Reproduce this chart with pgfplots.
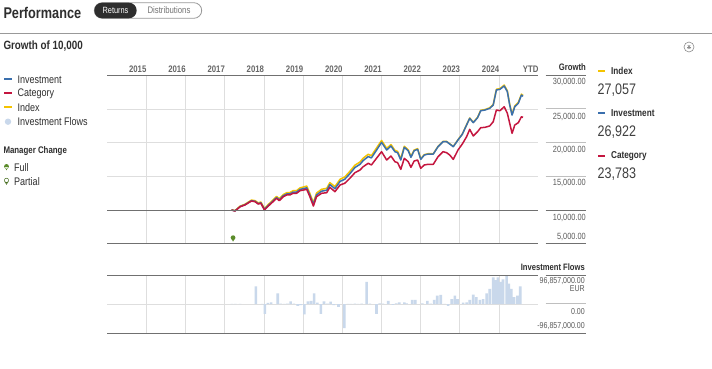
\documentclass[border=0pt]{standalone}
\usepackage{fontspec}
\setmainfont{Liberation Sans}[FakeStretch=0.82]
\usepackage{pgfplots}
\usepackage{pgfplotstable}
\usetikzlibrary{calc}
\pgfplotsset{compat=1.18}
\definecolor{cInv}{HTML}{3A6FAD}
\definecolor{cCat}{HTML}{C4163F}
\definecolor{cIdx}{HTML}{F4C300}
\definecolor{cFlow}{HTML}{C9D8EB}
\definecolor{cGrid}{HTML}{DEDEDE}
\definecolor{cDark}{HTML}{707070}
\definecolor{cText}{HTML}{2E2E2E}
\definecolor{cLab}{HTML}{5A5A5A}
\definecolor{cGreen}{HTML}{5B8C2A}
\newcommand\fs[1]{\fontsize{#1}{#1}\selectfont}
\pgfdeclareplotmark{pin}{%
  \pgfpathmoveto{\pgfpoint{-1.7pt}{-0.2pt}}%
  \pgfpathlineto{\pgfpoint{0pt}{-3.4pt}}%
  \pgfpathlineto{\pgfpoint{1.7pt}{-0.2pt}}%
  \pgfpathclose
  \pgfpathcircle{\pgfpoint{0pt}{0.6pt}}{2.4pt}%
  \pgfusepathqfill}

\pgfplotstableread{
x y
2018.17 10000
2018.26 9860
2018.39 10510
2018.51 10770
2018.68 11380
2018.77 11290
2018.85 10950
2018.92 11060
2019.01 10080
2019.11 10680
2019.23 11340
2019.32 11850
2019.39 11510
2019.49 12110
2019.58 12380
2019.66 12390
2019.74 12650
2019.83 12660
2019.92 13060
2020.09 13300
2020.17 12210
2020.26 10830
2020.34 12240
2020.47 12800
2020.60 12930
2020.68 13770
2020.81 13170
2020.94 14250
2021.06 14570
2021.19 15390
2021.32 16320
2021.45 16800
2021.53 17360
2021.66 17950
2021.74 17750
2021.87 18900
2022.00 20070
2022.13 18930
2022.24 19520
2022.34 18680
2022.41 18530
2022.49 17440
2022.58 19330
2022.68 18820
2022.75 17840
2022.83 18820
2022.92 19030
2023.00 17540
2023.09 18180
2023.19 18330
2023.32 18330
2023.44 19420
2023.57 20170
2023.66 20170
2023.74 19820
2023.83 19420
2023.95 20420
2024.06 21270
2024.17 22660
2024.25 23650
2024.34 23000
2024.45 23740
2024.53 24780
2024.64 24890
2024.76 25140
2024.85 25630
2024.93 27870
2025.02 27970
2025.13 28470
2025.21 27620
2025.27 25630
2025.33 24140
2025.40 25380
2025.49 25890
2025.57 27120
2025.61 26922
}\investmentdata

\pgfplotstableread{
x y
2018.17 9990
2018.26 9840
2018.39 10480
2018.51 10730
2018.68 11330
2018.77 11230
2018.85 10880
2018.92 10990
2019.01 9990
2019.11 10580
2019.23 11230
2019.32 11730
2019.39 11380
2019.49 11970
2019.58 12230
2019.66 12230
2019.74 12480
2019.83 12480
2019.92 12870
2020.09 13070
2020.17 11970
2020.26 10580
2020.34 11970
2020.47 12480
2020.60 12570
2020.68 13370
2020.81 12720
2020.94 13720
2021.06 13970
2021.19 14710
2021.32 15550
2021.45 15950
2021.53 16440
2021.66 16950
2021.74 16700
2021.87 17690
2022.00 18680
2022.13 17440
2022.24 18030
2022.34 17190
2022.41 17040
2022.49 16050
2022.58 17690
2022.68 17190
2022.75 16350
2022.83 17290
2022.92 17440
2023.00 16200
2023.09 16700
2023.19 16800
2023.32 16800
2023.44 17930
2023.57 18680
2023.66 18530
2023.74 18180
2023.83 17540
2023.95 18930
2024.06 19820
2024.17 20910
2024.25 22010
2024.34 21020
2024.45 21660
2024.53 22250
2024.64 22310
2024.76 22510
2024.85 23150
2024.93 24890
2025.02 24780
2025.13 25380
2025.21 24400
2025.27 22910
2025.33 21420
2025.40 22660
2025.49 23000
2025.57 23890
2025.61 23783
}\categorydata

\pgfplotstableread{
x y
2018.17 10030
2018.26 9900
2018.39 10570
2018.51 10840
2018.68 11470
2018.77 11390
2018.85 11060
2018.92 11180
2019.01 10210
2019.11 10820
2019.23 11490
2019.32 12010
2019.39 11680
2019.49 12290
2019.58 12570
2019.66 12590
2019.74 12860
2019.83 12880
2019.92 13290
2020.09 13550
2020.17 12460
2020.26 11080
2020.34 12510
2020.47 13080
2020.60 13220
2020.68 14070
2020.81 13480
2020.94 14570
2021.06 14910
2021.19 15740
2021.32 16670
2021.45 17150
2021.53 17710
2021.66 18300
2021.74 18080
2021.87 19220
2022.00 20350
2022.13 19170
2022.24 19740
2022.34 18880
2022.41 18720
2022.49 17610
2022.58 19490
2022.68 18960
2022.75 17970
2022.83 18930
2022.92 19130
2023.00 17620
2023.09 18240
2023.19 18380
2023.32 18370
2023.44 19460
2023.57 20210
2023.66 20210
2023.74 19860
2023.83 19460
2023.95 20460
2024.06 21310
2024.17 22700
2024.25 23700
2024.34 23050
2024.45 23800
2024.53 24850
2024.64 24960
2024.76 25220
2024.85 25720
2024.93 27980
2025.02 28080
2025.13 28600
2025.21 27750
2025.27 25750
2025.33 24250
2025.40 25510
2025.49 26020
2025.57 27250
2025.61 27057
}\indexdata

\pgfplotstableread{
x y
2018.18 0.8
2018.27 0.8
2018.39 0.6
2018.79 59
2018.95 1
2019.02 -32
2019.10 4
2019.18 6
2019.35 36
2019.43 2
2019.52 1
2019.60 2
2019.68 9
2019.76 2
2019.86 -6
2019.93 -3
2020.03 -34
2020.12 9
2020.20 11
2020.28 36
2020.36 5
2020.45 -32
2020.53 9
2020.62 2
2020.70 8
2020.78 -3
2020.90 -9
2021.05 -80
2021.14 1
2021.22 1
2021.32 2
2021.40 1
2021.49 2
2021.62 74
2021.70 2
2021.87 -32
2021.95 3
2022.03 2
2022.17 11
2022.29 -2
2022.37 3
2022.45 6
2022.58 6
2022.64 3
2022.78 14
2022.86 14
2023.04 3
2023.17 11
2023.25 2
2023.34 14
2023.42 28
2023.51 31
2023.61 1
2023.70 -6
2023.79 17
2023.87 28
2023.94 17
2024.08 5
2024.17 6
2024.25 14
2024.34 32
2024.42 23
2024.51 14
2024.59 17
2024.68 36
2024.76 51
2024.85 89
2024.91 80
2024.97 89
2025.04 74
2025.10 82
2025.19 93
2025.25 68
2025.31 51
2025.38 23
2025.47 28
2025.54 59
}\flowsdata

\begin{document}
\begin{tikzpicture}
\path[use as bounding box, fill=white] (0,0) rectangle (712pt,368pt);

% growth axis
\begin{axis}[at={(107.3pt,124.5pt)}, anchor=south west, scale only axis,
  width=431pt, height=167.8pt, xmin=2015, xmax=2026, ymin=5000, ymax=30000,
  axis line style={draw=none}, tick style={draw=none},
  scaled x ticks=false, scaled y ticks=false,
  xtick={2016,...,2025}, ytick={15000,20000,25000},
  xticklabels={}, yticklabels={},
  grid=major, grid style={cGrid, line width=0.9pt}, clip=false]
\addplot[cIdx, line width=1.5pt, line join=round, mark=none] table {\indexdata};
\addplot[cInv, line width=1.5pt, line join=round, mark=none] table {\investmentdata};
\addplot[cCat, line width=1.5pt, line join=round, mark=none] table {\categorydata};
\addplot[only marks, mark=pin, color=cGreen] coordinates {(2018.21,5780)};
\end{axis}

% flows axis
\begin{axis}[at={(107.3pt,34.7pt)}, anchor=south west, scale only axis,
  width=431pt, height=58.3pt, xmin=2015, xmax=2026, ymin=-96.857, ymax=96.857,
  axis line style={draw=none}, tick style={draw=none},
  scaled x ticks=false, scaled y ticks=false,
  xtick={2016,...,2025}, ytick={0},
  xticklabels={}, yticklabels={},
  grid=major, grid style={cGrid, line width=0.9pt}]
\addplot[ybar, bar width=2.6pt, fill=cFlow, draw=none] table {\flowsdata};
\end{axis}

\begin{scope}[x=1pt, y=-1pt, yshift=368pt]
% header
\node[anchor=west, inner sep=0, text=cText] at (3.3,12.6) {\fs{15.5}\bfseries Performance};
\draw[color=black!40, line width=0.8pt, rounded corners=7.8pt] (94.3,2.7) rectangle (201.7,18.3);
\fill[cText, rounded corners=7.8pt] (94.3,2.7) rectangle (136.7,18.3);
\node[inner sep=0, text=white] at (115.5,10.6) {\fs{9}Returns};
\node[inner sep=0, text=black!55] at (169,10.6) {\fs{9.5}Distributions};
\draw[color=black!40, line width=0.8pt] (0,33.3) -- (712,33.3);
\node[anchor=west, inner sep=0, text=cText] at (3.3,46) {\fs{12}\bfseries Growth of 10,000};
% icon
\draw[color=black!45, line width=0.6pt] (689,47) circle (5);
\foreach \a in {0,60,120} {\draw[color=black!45, line width=0.7pt] ($(689,47)+(\a:2.3)$) -- ($(689,47)+(\a+180:2.3)$);}

% left legend
\fill[cInv] (4,78.4) rectangle (11.7,80.2);
\node[anchor=west, inner sep=0, text=cText] at (17.3,79.3) {\fs{11}Investment};
\fill[cCat] (4,92.4) rectangle (11.7,94.2);
\node[anchor=west, inner sep=0, text=cText] at (17.3,93.3) {\fs{11}Category};
\fill[cIdx] (4,106.4) rectangle (11.7,108.2);
\node[anchor=west, inner sep=0, text=cText] at (17.3,107.3) {\fs{11}Index};
\fill[cFlow] (8,121.7) circle (3.2);
\node[anchor=west, inner sep=0, text=cText] at (17.3,121.7) {\fs{11}Investment Flows};
\node[anchor=west, inner sep=0, text=cText] at (3.3,150.7) {\fs{9.6}\bfseries Manager Change};
\fill[cGreen] (6.5,166.4) circle (2.4) (4.8,167.2) -- (6.5,170.4) -- (8.2,167.2) -- cycle;
\node[anchor=west, inner sep=0, text=cText] at (14,167.3) {\fs{11}Full};
\draw[cGreen!80!black, line width=0.5pt] (6.5,180.4) circle (2.2);
\draw[cGreen!80!black, line width=0.5pt] (5.0,181.6) -- (6.5,184.4) -- (8.0,181.6);
\node[anchor=west, inner sep=0, text=cText] at (14,181.3) {\fs{11}Partial};

% year labels
\foreach \xx/\t in {137.7/2015,177.0/2016,216.2/2017,255.4/2018,294.6/2019,333.8/2020,373.0/2021,412.2/2022,451.4/2023,490.6/2024,530.7/YTD}
  {\node[inner sep=0, text=black!60] at (\xx,69) {\fs{9.5}\bfseries \t};}

% growth frame
\draw[cDark, line width=0.9pt] (107.3,75.7) -- (538.3,75.7);
\draw[cDark, line width=0.9pt] (107.3,210) -- (538.3,210);
\draw[cDark, line width=0.9pt] (107.3,243.4) -- (538.3,243.4);
\draw[cDark, line width=0.9pt] (545.7,75.7) -- (586,75.7);
\draw[black!25, line width=0.9pt] (545.7,108.3) -- (586,108.3);
\draw[black!25, line width=0.9pt] (545.7,142.3) -- (586,142.3);
\draw[black!25, line width=0.9pt] (545.7,176) -- (586,176);
\draw[cDark, line width=0.9pt] (545.7,210) -- (586,210);
\draw[cDark, line width=0.9pt] (545.7,243.4) -- (586,243.4);
\node[anchor=east, inner sep=0, text=cText] at (586,67.3) {\fs{9.4}\bfseries Growth};
\foreach \yy/\t in {82.3/{30,000.00},116.7/{25,000.00},150/{20,000.00},183.3/{15,000.00},217.7/{10,000.00},237.3/{5,000.00}}
  {\node[anchor=east, inner sep=0, text=cLab] at (586,\yy) {\fs{9}\t};}

% right legend
\fill[cIdx] (598.3,69.8) rectangle (605.3,71.6);
\node[anchor=west, inner sep=0, text=cText] at (611,70.7) {\fs{10}\bfseries Index};
\node[anchor=west, inner sep=0, text=black!75] at (597.5,90) {\fs{15.3}27,057};
\fill[cInv] (598.3,112.4) rectangle (605.3,114.2);
\node[anchor=west, inner sep=0, text=cText] at (611,113.3) {\fs{10}\bfseries Investment};
\node[anchor=west, inner sep=0, text=black!75] at (597.5,132.3) {\fs{15.3}26,922};
\fill[cCat] (598.3,154.8) rectangle (605.3,156.6);
\node[anchor=west, inner sep=0, text=cText] at (611,155.7) {\fs{10}\bfseries Category};
\node[anchor=west, inner sep=0, text=black!75] at (597.5,174) {\fs{15.3}23,783};

% flows frame
\draw[cDark, line width=0.9pt] (107.3,275) -- (538.3,275);
\draw[cDark, line width=0.9pt] (545.7,275) -- (586,275);
\draw[black!25, line width=0.9pt] (545.7,303.3) -- (586,303.3);
\draw[cDark, line width=0.9pt] (107.3,333.4) -- (586,333.4);
\node[anchor=east, inner sep=0, text=cText] at (585,266.7) {\fs{9.3}\bfseries Investment Flows};
\node[anchor=east, inner sep=0, text=cLab] at (585,281.2) {\fs{8.6}96,857,000.00};
\node[anchor=east, inner sep=0, text=cLab] at (585,288.8) {\fs{8.6}EUR};
\node[anchor=east, inner sep=0, text=cLab] at (585,311.2) {\fs{8.6}0.00};
\node[anchor=east, inner sep=0, text=cLab] at (585,326.5) {\fs{8.6}-96,857,000.00};
\end{scope}
\end{tikzpicture}
\end{document}
